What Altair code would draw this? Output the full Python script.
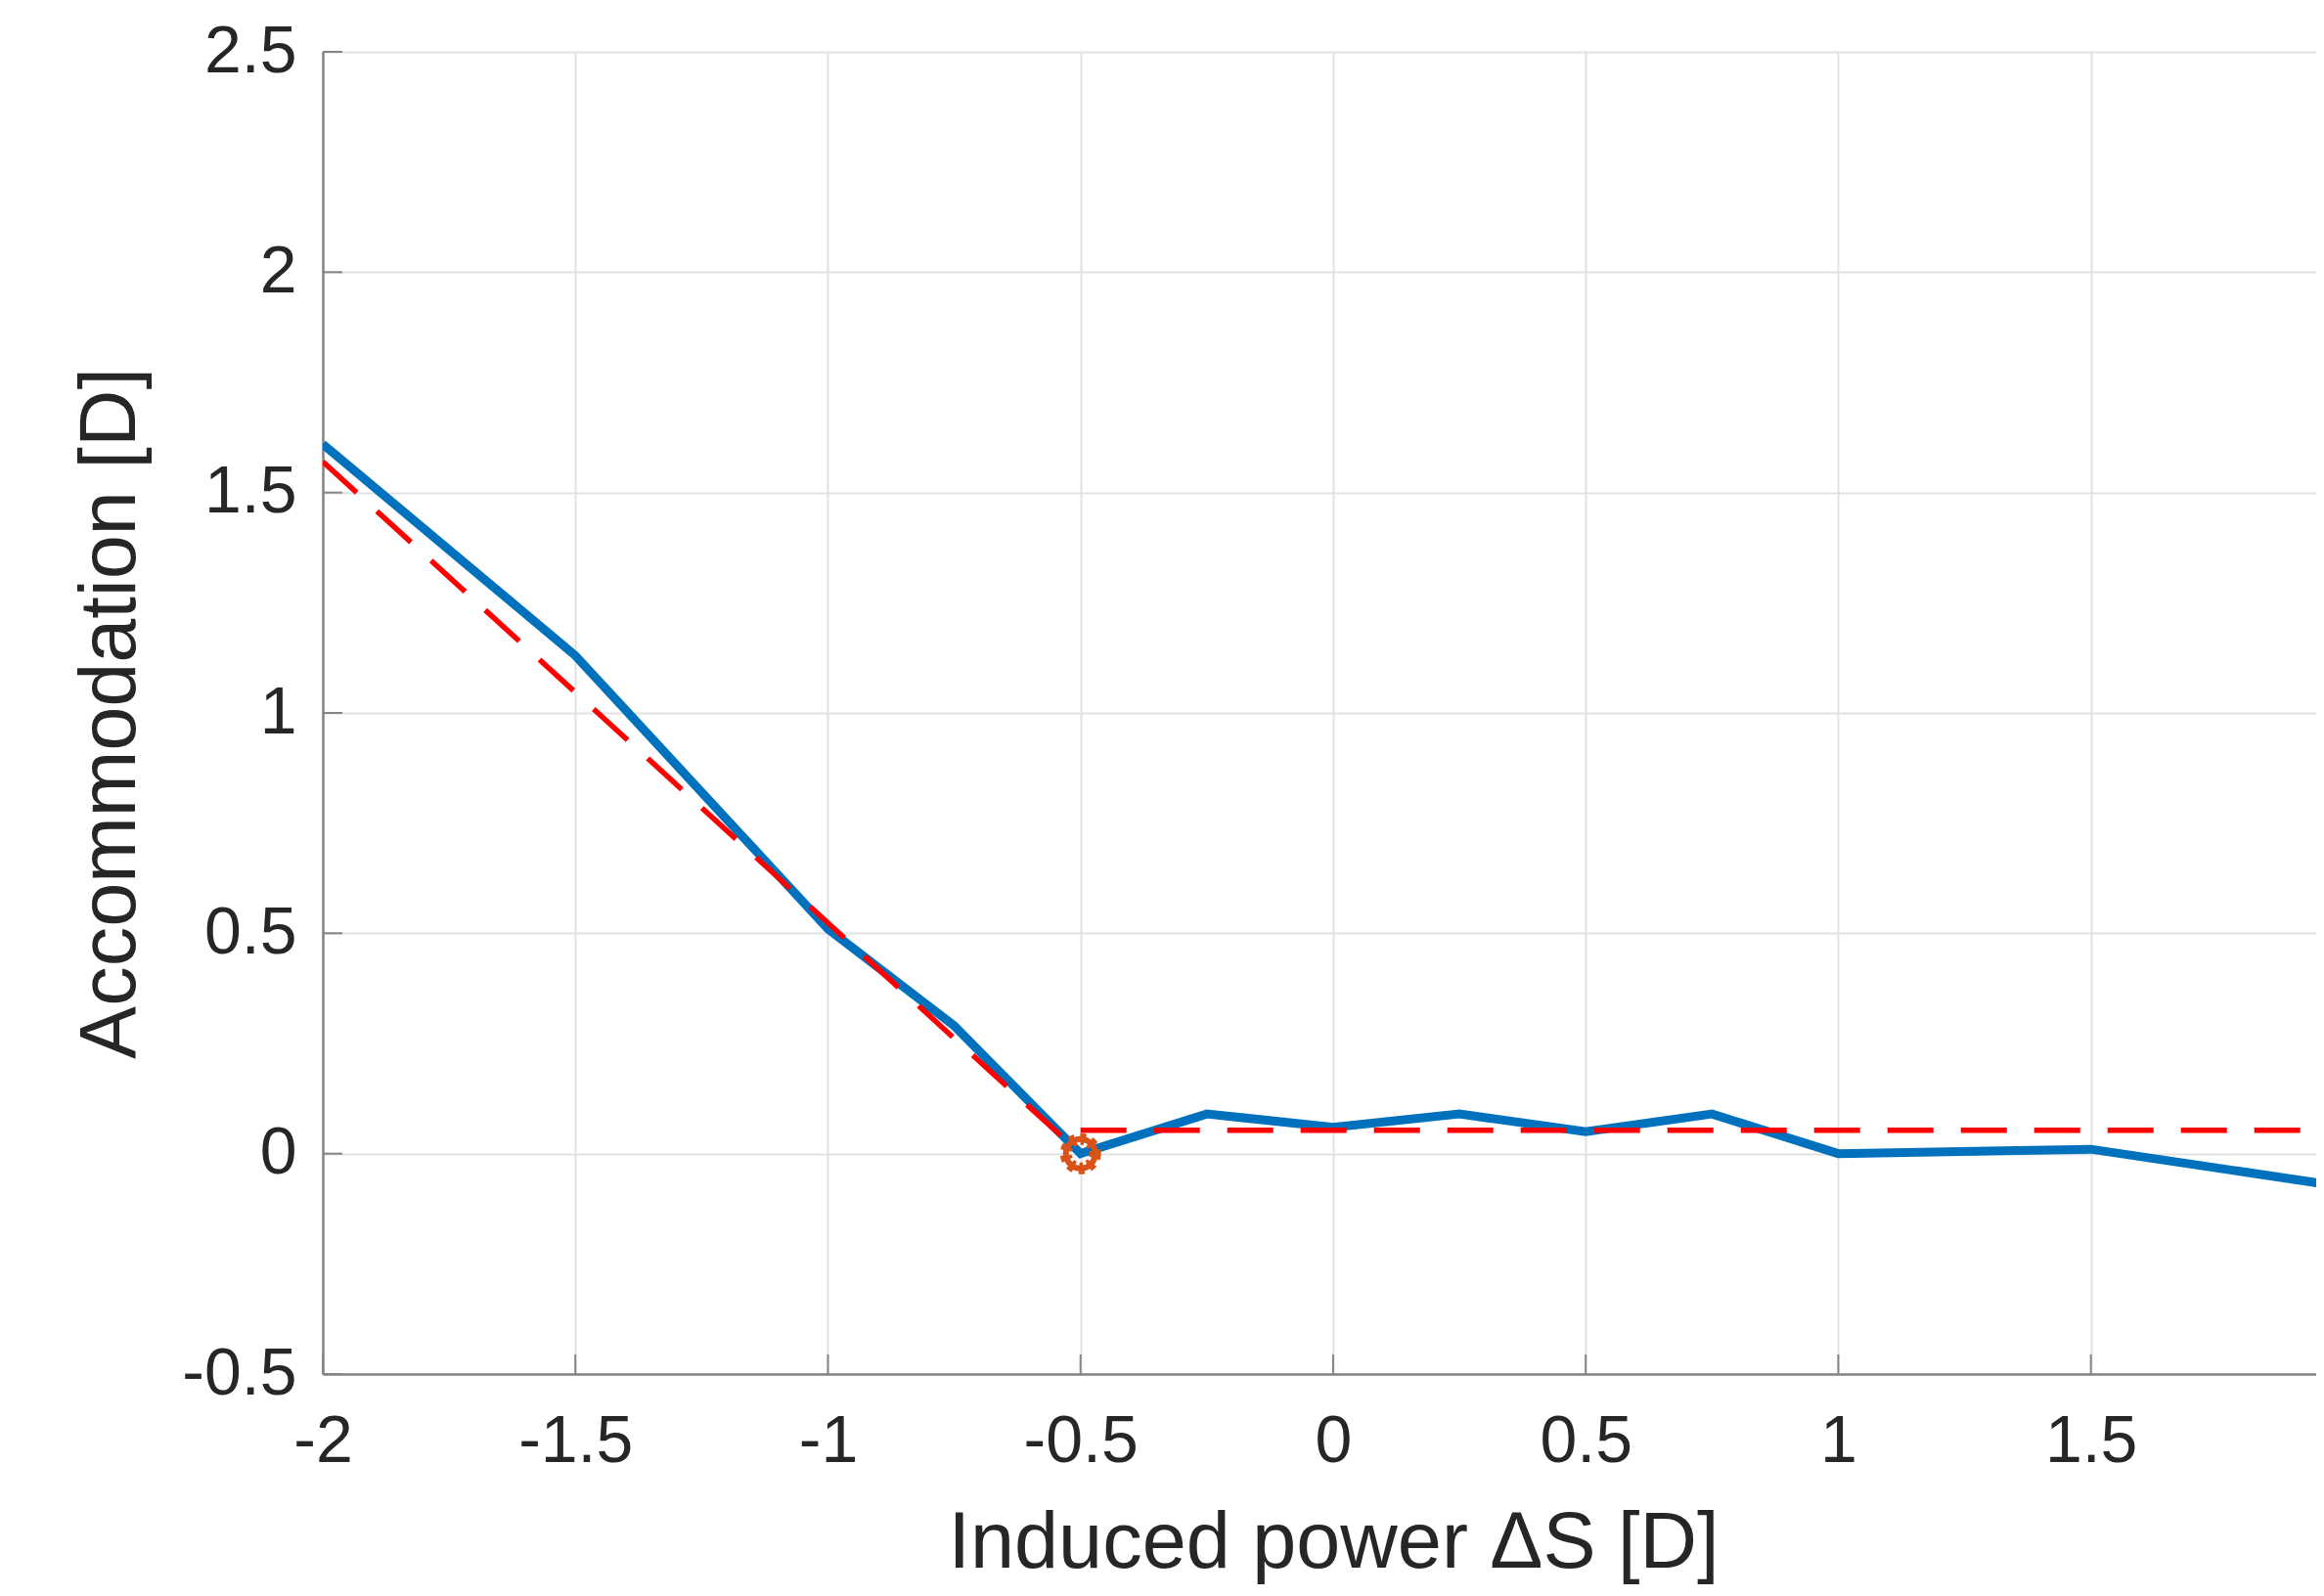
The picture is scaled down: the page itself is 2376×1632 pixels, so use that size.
import altair as alt
import pandas as pd

# ---- data ----
induced_power = [-2, -1.5, -1, -0.75, -0.5, -0.25, 0, 0.25, 0.5, 0.75, 1, 1.5, 2]
accommodation = [1.61, 1.13, 0.51, 0.29, 0.0, 0.09, 0.06, 0.09, 0.05, 0.09, 0.0, 0.01, -0.075]

fit_x = [-2, -0.5, -0.5, 2]
fit_y = [1.57, 0.0, 0.053, 0.053]
fit_seg = ["slope", "slope", "flat", "flat"]

break_x = [-0.5]
break_y = [0.0]

x_ticks = [-2, -1.5, -1, -0.5, 0, 0.5, 1, 1.5]
y_ticks = [-0.5, 0, 0.5, 1, 1.5, 2, 2.5]

X_MAX = 1.946
W, H = 2038, 1352
FONT = "Liberation Sans"
TXT = "#262626"
AXC = "#858585"

df_line = pd.DataFrame({"x": induced_power, "y": accommodation})
df_fit = pd.DataFrame({"x": fit_x, "y": fit_y, "seg": fit_seg})
df_break = pd.DataFrame({"x": break_x, "y": break_y})
df_xt = pd.DataFrame({"x": x_ticks})
df_yt = pd.DataFrame({"y": y_ticks})

lab = "datum.value < 0 ? '-' + format(-datum.value, '~g') : format(datum.value, '~g')"

x_scale = alt.Scale(domain=[-2, X_MAX], nice=False, zero=False)
y_scale = alt.Scale(domain=[-0.5, 2.5], nice=False, zero=False)

x_enc = alt.X("x:Q", scale=x_scale, title="Induced power ΔS [D]",
              axis=alt.Axis(values=x_ticks, labelExpr=lab, ticks=False,
                            labelBaseline="alphabetic", labelPadding=89,
                            titleX=1033, titleY=197, titleAlign="center",
                            titleBaseline="alphabetic"))
y_enc = alt.Y("y:Q", scale=y_scale, title="Accommodation [D]",
              axis=alt.Axis(values=y_ticks, labelExpr=lab, ticks=False,
                            labelPadding=27, titleX=-193, titleY=H / 2,
                            titleAngle=270, titleAlign="center",
                            titleBaseline="alphabetic"))

blue = alt.Chart(df_line).mark_line(color="#0072BD", strokeWidth=9, clip=True).encode(
    x=x_enc, y=y_enc)

marker_ring = alt.Chart(df_break).mark_point(
    shape="circle", filled=False, color="#D95319", size=900, strokeWidth=6, opacity=1
).encode(x=alt.X("x:Q", scale=x_scale), y=alt.Y("y:Q", scale=y_scale))
marker_teeth = alt.Chart(df_break).mark_point(
    shape="circle", filled=False, color="#D95319", size=900, strokeWidth=12,
    strokeDash=[5, 5], opacity=1
).encode(x=alt.X("x:Q", scale=x_scale), y=alt.Y("y:Q", scale=y_scale))

red = alt.Chart(df_fit).mark_line(color="#FF0000", strokeWidth=5.5, strokeDash=[47, 28],
                                  clip=True).encode(
    x=alt.X("x:Q", scale=x_scale), y=alt.Y("y:Q", scale=y_scale), detail="seg:N")

xt = alt.Chart(df_xt).mark_rule(color=AXC, strokeWidth=2).encode(
    x=alt.X("x:Q", scale=x_scale), y=alt.value(H), y2=alt.value(H - 20))
yt = alt.Chart(df_yt).mark_rule(color=AXC, strokeWidth=2).encode(
    y=alt.Y("y:Q", scale=y_scale), x=alt.value(0), x2=alt.value(20))

chart = alt.layer(blue, marker_teeth, marker_ring, red, xt, yt).properties(
    width=W, height=H,
    autosize=alt.AutoSizeParams(type="none"),
    padding={"left": 322, "top": 45, "right": 0, "bottom": 215},
    background="white",
).configure_view(stroke=None).configure_axis(
    domainColor=AXC, domainWidth=2.5,
    gridColor="#E2E2E2", gridWidth=2,
    labelFont=FONT, labelFontSize=68, labelColor=TXT,
    titleFont=FONT, titleFontSize=81, titleColor=TXT, titleFontWeight="normal",
    labelOverlap=False, labelFlush=False,
)

chart.save("out.html", embed_options={"renderer": "svg", "actions": False})
